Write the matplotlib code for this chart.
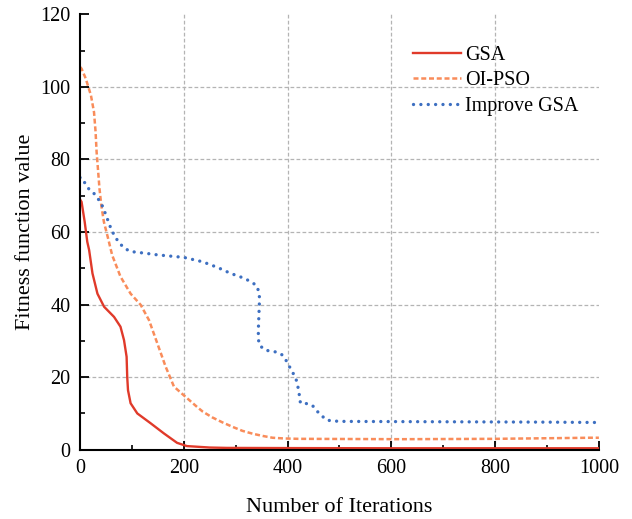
import numpy as np
from matplotlib import pyplot as plt
from matplotlib.ticker import MultipleLocator

# data
gsa_x = [0, 3, 9, 14, 17.6, 24, 33.6, 46.4, 65.6, 78, 84.8, 89.8, 91, 92.5, 97.5, 110.4, 136, 161.6, 187, 206,
         250, 283, 400, 600, 800, 1000]
gsa_y = [69, 68.3, 62.8, 57.3, 55, 48.6, 43, 39.4, 36.6, 33.9, 30.2, 25.6, 20, 16.4, 12.8, 10, 7.3, 4.5, 1.9, 1.0,
         0.6, 0.5, 0.45, 0.4, 0.4, 0.4]

pso_x = [0, 3, 11, 21, 27, 30, 32, 35, 37.5, 41, 46, 54, 62, 78, 97.5, 117, 133, 149, 165, 181, 200, 225.5, 236.5,
         255, 275, 294, 313, 333, 352, 371, 393, 420, 620, 800, 985, 1000]
pso_y = [105.5, 105, 102.3, 97.7, 93, 87.6, 82, 76.6, 72, 67.4, 62.8, 58.3, 53.6, 47.7, 43, 39.9, 35.7, 29.3, 22.9,
         17.4, 15, 11.8, 10.5, 8.9, 7.5, 6.3, 5.2, 4.4, 3.8, 3.3, 3.1, 3.0, 2.9, 3.0, 3.3, 3.3]

igsa_x = [0, 4.8, 11, 19, 27, 36.5, 43, 48, 52.5, 57, 62, 67.5, 75, 85, 96, 109, 123, 149, 200, 236, 249, 262,
          273.5, 284, 296, 308, 320, 330, 340, 345, 346, 345, 344, 343.5, 346, 356, 369, 380, 390, 397.6, 409, 416,
          419, 422, 423, 425, 438, 448, 455, 464, 475, 487, 510, 700, 900, 1000]
igsa_y = [75, 74.8, 73, 71.5, 70.6, 68.8, 67.2, 65.4, 63.7, 61.9, 60.2, 58.7, 57.1, 55.6, 54.7, 54.4, 54.2, 53.7,
          53, 51.8, 51.1, 50.4, 49.7, 49, 48.3, 47.7, 47, 46.2, 45.3, 43.4, 41.6, 37.9, 34.3, 30.6, 28.8, 27.5, 27.1,
          26.9, 26.1, 24.5, 21.5, 19.7, 17.8, 16.2, 14.3, 12.8, 12.7, 12.2, 10.9, 9.6, 8.2, 7.9, 7.8, 7.7, 7.6, 7.5]

x_ticks = [0, 200, 400, 600, 800, 1000]
y_ticks = [0, 20, 40, 60, 80, 100, 120]

plt.rcParams["font.family"] = ["Liberation Serif", "DejaVu Serif"]

fig = plt.figure(figsize=(6.32, 5.19), dpi=100)
ax = fig.add_axes([0.1266, 0.1335, 0.821, 0.839])

# interior dashed grid
for xv in x_ticks[1:-1]:
    ax.axvline(xv, color="#b4b4b4", linestyle=(0, (3, 1.8)), linewidth=0.9, zorder=0)
for yv in y_ticks[1:-1]:
    ax.axhline(yv, color="#b4b4b4", linestyle=(0, (3, 1.8)), linewidth=0.9, zorder=0)

ax.plot(gsa_x, gsa_y, color="#e03a2a", linestyle="-", linewidth=1.7, label="GSA")
ax.plot(pso_x, pso_y, color="#f98c5a", linestyle=(0, (2, 1.1)), linewidth=1.8, label="OI-PSO")
ax.plot(igsa_x, igsa_y, color="#3d6fc1", linestyle=(0, (0.01, 2.2)), linewidth=2.4,
        dash_capstyle="round", label="Improve GSA")

ax.set_xlim(0, 1000)
ax.set_ylim(0, 120)
ax.set_xticks(x_ticks)
ax.set_yticks(y_ticks)
ax.xaxis.set_minor_locator(MultipleLocator(100))
ax.yaxis.set_minor_locator(MultipleLocator(10))
ax.tick_params(which="major", direction="in", length=6.5, width=1.3, labelsize=14.5, pad=7)
ax.tick_params(which="minor", direction="in", length=3.5, width=1.2)

for side in ["top", "right"]:
    ax.spines[side].set_visible(False)
for side in ["left", "bottom"]:
    ax.spines[side].set_linewidth(1.5)

ax.set_xlabel("Number of Iterations", fontsize=16, labelpad=14)
ax.set_ylabel("Fitness function value", fontsize=16, labelpad=3.5)

ax.legend(loc="upper right", bbox_to_anchor=(0.995, 0.97), frameon=False, fontsize=14.5,
          handlelength=2.35, handletextpad=0.2, labelspacing=0.33)

plt.savefig("out.png", dpi=100)
